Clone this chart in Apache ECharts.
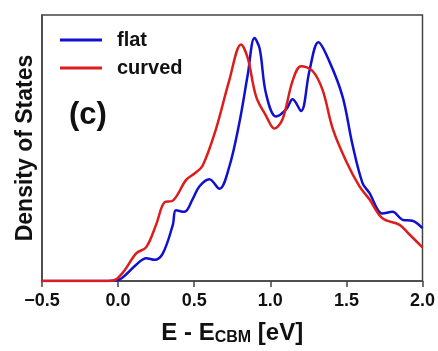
<!DOCTYPE html>
<html><head><meta charset="utf-8">
<script src="https://cdn.jsdelivr.net/npm/echarts@6/dist/echarts.min.js"></script>
<style>html,body{margin:0;padding:0;background:#fff}#c{width:438px;height:351px}</style>
</head><body><div id="c"></div>
<script>
var flatX = [-0.5, -0.1, 0.0, 0.054, 0.119, 0.185, 0.24, 0.294, 0.36, 0.38, 0.436, 0.49, 0.535, 0.60, 0.666, 0.73, 0.797, 0.852, 0.896, 0.93, 0.972, 1.038, 1.104, 1.147, 1.202, 1.257, 1.316, 1.388, 1.475, 1.54, 1.606, 1.65, 1.737, 1.803, 1.869, 1.934, 2.0];
var flatY = [0, 0, 1, 7, 17, 23.7, 22, 28.7, 58.7, 73.7, 72, 85.3, 98.7, 106, 96, 118.7, 165, 215, 253, 242, 195, 171.3, 178.7, 189.3, 177, 218.7, 248.7, 228.7, 192, 142, 102, 92, 70.3, 72, 63.7, 62.7, 55];
var curvedX = [-0.5, -0.1, -0.034, 0.031, 0.119, 0.185, 0.25, 0.305, 0.36, 0.447, 0.502, 0.556, 0.644, 0.73, 0.808, 0.852, 0.907, 0.972, 1.027, 1.081, 1.147, 1.202, 1.278, 1.344, 1.41, 1.497, 1.585, 1.65, 1.737, 1.847, 1.913, 2.0];
var curvedY = [0, 0, 0.3, 8.7, 28.7, 35.3, 58.7, 82, 83.7, 105.3, 112, 120.3, 158.7, 208.7, 246.3, 232, 192, 172, 158.7, 168.7, 208.7, 223.7, 218.7, 198.7, 158.7, 125.3, 98.7, 85.3, 65.3, 58.7, 48.7, 35];
var xTicks = [-0.5, 0.0, 0.5, 1.0, 1.5, 2.0];
var seriesNames = ['flat', 'curved'];

function pairs(xs, ys){ return xs.map(function(x,i){ return [x, ys[i]]; }); }
var ff = 'Liberation Sans, Arial, sans-serif';
var chart = echarts.init(document.getElementById('c'));
chart.setOption({
  animation: false,
  backgroundColor: '#fff',
  grid: {left: 42, top: 15, width: 381, height: 277, show: true, borderColor: '#444', borderWidth: 1.5, backgroundColor: 'transparent'},
  legend: {
    orient: 'vertical', left: 60, top: 29, padding: 0, itemWidth: 42, itemHeight: 3, itemGap: 6,
    icon: 'rect',
    data: seriesNames,
    textStyle: {fontFamily: ff, fontWeight: 'bold', fontSize: 20, color: '#111', lineHeight: 22, padding: [0,0,0,10]}
  },
  xAxis: {
    type: 'value', min: xTicks[0], max: xTicks[xTicks.length-1], interval: 0.5,
    axisLine: {show: true, onZero: false, lineStyle: {color: '#444', width: 1.5}},
    axisTick: {show: true, length: 6, lineStyle: {color: '#444', width: 1.5}},
    splitLine: {show: false},
    axisLabel: {fontFamily: ff, fontWeight: 'bold', fontSize: 18, color: '#111', margin: 11,
      formatter: function(v){ return v.toFixed(1).replace('-', '\u2212'); }},
    name: '{a|E - E}{b|CBM}{a| [eV]}', nameLocation: 'middle', nameGap: 40,
    nameTextStyle: {rich: {
      a: {fontFamily: ff, fontWeight: 'bold', fontSize: 24, color: '#111'},
      b: {fontFamily: ff, fontWeight: 'bold', fontSize: 16, color: '#111', padding: [9,0,0,0]}
    }}
  },
  yAxis: {
    type: 'value', min: 0, max: 277,
    axisLine: {show: true, onZero: false, lineStyle: {color: '#444', width: 1.5}},
    axisTick: {show: false}, axisLabel: {show: false}, splitLine: {show: false},
    name: 'Density of States', nameLocation: 'middle', nameGap: 5, nameRotate: 90,
    nameTextStyle: {fontFamily: ff, fontWeight: 'bold', fontSize: 23, color: '#111'}
  },
  graphic: [{type: 'text', left: 69, top: 100, style: {text: '(c)', font: 'bold 31px ' + ff, fill: '#111'}}],
  series: [
    {name: seriesNames[0], type: 'line', data: pairs(flatX, flatY), smooth: 0.35, showSymbol: false, symbol: 'none',
     lineStyle: {color: '#1010d0', width: 2.5}, itemStyle: {color: '#1010d0'}},
    {name: seriesNames[1], type: 'line', data: pairs(curvedX, curvedY), smooth: 0.35, showSymbol: false, symbol: 'none',
     lineStyle: {color: '#dd1c1c', width: 2.5}, itemStyle: {color: '#dd1c1c'}}
  ]
});
</script></body></html>
